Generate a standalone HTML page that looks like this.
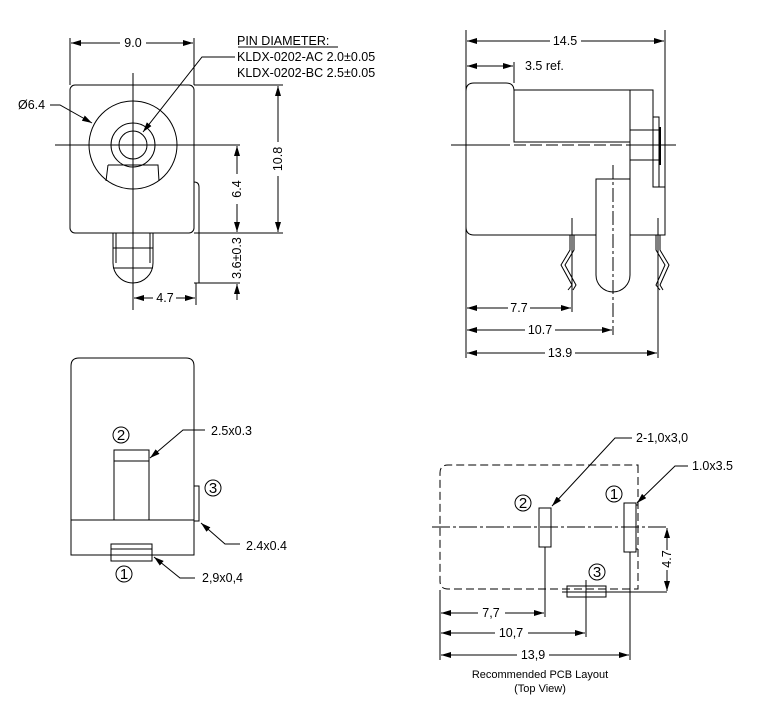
<!DOCTYPE html>
<html><head><style>
html,body{margin:0;padding:0;background:#fff;}
svg{display:block;}
text{font-family:"Liberation Sans",Arial,sans-serif;font-size:12.5px;fill:#000;}
.n{font-size:15px;}
</style></head><body>
<svg width="757" height="702" viewBox="0 0 757 702" xmlns="http://www.w3.org/2000/svg">
<defs>
<marker id="a" viewBox="0 0 10 6" refX="10" refY="3" markerWidth="10" markerHeight="6" orient="auto-start-reverse" markerUnits="userSpaceOnUse"><path d="M0,0 L10,3 L0,6 z" fill="#000"/></marker>
</defs>
<g stroke="#000" stroke-width="1" fill="none">
<rect x="70" y="85" width="124" height="148" rx="5"/>
<circle cx="133" cy="145" r="44"/>
<circle cx="133" cy="145" r="22"/>
<circle cx="133" cy="145" r="14"/>
<path d="M108,165 H158 L159,181 M108,165 L106,181"/>
<line x1="55" y1="145" x2="240" y2="145"/>
<line x1="133" y1="73" x2="133" y2="310"/>
<path d="M113,233 V263 A20,20 0 0 0 153,263 V233"/>
<path d="M116,233 V263 M150,233 V263"/>
<line x1="113" y1="248" x2="153" y2="248"/>
<line x1="113" y1="268" x2="153" y2="268"/>
<path d="M194,182 Q199,182 199,187 V283 H194"/>
<line x1="199" y1="283" x2="240" y2="283"/>
<line x1="70" y1="38" x2="70" y2="85"/>
<line x1="194" y1="38" x2="194" y2="85"/>
<line x1="71" y1="43" x2="120" y2="43" marker-start="url(#a)"/>
<line x1="146" y1="43" x2="193" y2="43" marker-end="url(#a)"/>
<line x1="194" y1="85" x2="283" y2="85"/>
<line x1="194" y1="233" x2="283" y2="233"/>
<line x1="278" y1="86" x2="278" y2="142" marker-start="url(#a)"/>
<line x1="278" y1="176" x2="278" y2="232" marker-end="url(#a)"/>
<line x1="237" y1="146" x2="237" y2="174" marker-start="url(#a)"/>
<line x1="237" y1="204" x2="237" y2="232" marker-end="url(#a)"/>
<line x1="237" y1="300" x2="237" y2="284" marker-end="url(#a)"/>
<line x1="196" y1="283" x2="196" y2="305"/>
<line x1="134" y1="298" x2="153" y2="298" marker-start="url(#a)"/>
<line x1="176" y1="298" x2="195" y2="298" marker-end="url(#a)"/>
<path d="M50,105 H60 L92,123" marker-end="url(#a)"/>
<path d="M235,57 H202 L143,132" marker-end="url(#a)"/>
<line x1="238" y1="47" x2="338" y2="47"/>

<path d="M474,83 H506 Q514,83 514,91 V90 H653 V187 H665 V235 H630 M596,235 H474 Q466,235 466,227 V91 Q466,83 474,83"/>
<path d="M514,90 V142 H630"/>
<line x1="630" y1="90" x2="630" y2="235"/>
<rect x="653" y="117" width="6" height="70"/>
<rect x="630" y="130" width="29" height="30"/>
<line x1="660" y1="127" x2="660" y2="165" stroke-width="2"/>
<line x1="451" y1="145" x2="510" y2="145"/>
<line x1="514" y1="145" x2="630" y2="145" stroke-dasharray="12,4"/>
<line x1="630" y1="145" x2="676" y2="145"/>
<path d="M596,235 V179 H630 V275 A17,17 0 0 1 596,275 V235"/>
<line x1="613" y1="165" x2="613" y2="335" stroke-dasharray="14,3,3,3"/>
<path d="M570,235 V250 L561,265 L572,285 L568,290 M574,235 V250 L565,265 L576,285 L573,290"/>
<path d="M656,235 V250 L665,265 L656,285 L660,290 M660,235 V250 L669,265 L660,285 L663,290"/>
<line x1="572" y1="218" x2="572" y2="312"/>
<line x1="658" y1="218" x2="658" y2="358"/>
<line x1="466" y1="30" x2="466" y2="358"/>
<line x1="665" y1="30" x2="665" y2="187"/>
<line x1="514" y1="62" x2="514" y2="83"/>
<line x1="467" y1="41" x2="550" y2="41" marker-start="url(#a)"/>
<line x1="581" y1="41" x2="664" y2="41" marker-end="url(#a)"/>
<line x1="467" y1="66" x2="513" y2="66" marker-start="url(#a)" marker-end="url(#a)"/>
<line x1="467" y1="308" x2="508" y2="308" marker-start="url(#a)"/>
<line x1="530" y1="308" x2="571" y2="308" marker-end="url(#a)"/>
<line x1="467" y1="330" x2="525" y2="330" marker-start="url(#a)"/>
<line x1="555" y1="330" x2="612" y2="330" marker-end="url(#a)"/>
<line x1="467" y1="353" x2="545" y2="353" marker-start="url(#a)"/>
<line x1="575" y1="353" x2="657" y2="353" marker-end="url(#a)"/>

<path d="M71,555 V366 Q71,358 79,358 H186 Q194,358 194,366 V555 Z"/>
<path d="M71,520 H114 V450 H149 V520 H194"/>
<line x1="114" y1="520" x2="149" y2="520"/>
<line x1="114" y1="461" x2="149" y2="461"/>
<rect x="111" y="544" width="41" height="17"/>
<line x1="111" y1="549" x2="152" y2="549"/>
<rect x="194" y="486" width="5" height="35"/>
<path d="M205,430 H183 L150,458" marker-end="url(#a)"/>
<path d="M240,544 H225 L201,523" marker-end="url(#a)"/>
<path d="M195,578 H180 L154,557" marker-end="url(#a)"/>
<circle cx="121" cy="435" r="8"/>
<circle cx="213" cy="488" r="8"/>
<circle cx="124" cy="574" r="8"/>

<path d="M638,465 V589 H448 Q440,589 440,581 V473 Q440,465 448,465 Z" stroke-dasharray="8,4"/>
<line x1="432" y1="527" x2="667" y2="527" stroke-dasharray="18,3,3,3"/>
<rect x="539" y="508" width="12" height="39"/>
<rect x="624" y="503" width="12" height="49"/>
<path d="M636,505 H638 M636,549 H638"/>
<rect x="567" y="586" width="39" height="11"/>
<line x1="562" y1="592" x2="667" y2="592"/>
<line x1="586" y1="580" x2="586" y2="637"/>
<line x1="545" y1="547" x2="545" y2="617"/>
<line x1="630" y1="552" x2="630" y2="660"/>
<line x1="440" y1="590" x2="440" y2="660"/>
<path d="M632,438 H615 L552,506" marker-end="url(#a)"/>
<path d="M688,466 H675 L637,503" marker-end="url(#a)"/>
<line x1="667" y1="528" x2="667" y2="550" marker-start="url(#a)"/>
<line x1="667" y1="570" x2="667" y2="591" marker-end="url(#a)"/>
<line x1="441" y1="613" x2="478" y2="613" marker-start="url(#a)"/>
<line x1="505" y1="613" x2="544" y2="613" marker-end="url(#a)"/>
<line x1="441" y1="633" x2="495" y2="633" marker-start="url(#a)"/>
<line x1="528" y1="633" x2="585" y2="633" marker-end="url(#a)"/>
<line x1="441" y1="655" x2="517" y2="655" marker-start="url(#a)"/>
<line x1="549" y1="655" x2="629" y2="655" marker-end="url(#a)"/>
<circle cx="523" cy="503" r="8"/>
<circle cx="614" cy="494" r="8"/>
<circle cx="597" cy="572" r="8"/>
</g>

<text x="133" y="47" text-anchor="middle">9.0</text>
<text x="237" y="45">PIN DIAMETER:</text>
<text x="237" y="61">KLDX-0202-AC 2.0±0.05</text>
<text x="237" y="77">KLDX-0202-BC 2.5±0.05</text>
<text x="18" y="109">Ø6.4</text>
<text transform="translate(282,159) rotate(-90)" text-anchor="middle">10.8</text>
<text transform="translate(241,189) rotate(-90)" text-anchor="middle">6.4</text>
<text transform="translate(241,258) rotate(-90)" text-anchor="middle">3.6±0.3</text>
<text x="165" y="302" text-anchor="middle">4.7</text>

<text x="565" y="45" text-anchor="middle">14.5</text>
<text x="525" y="70">3.5 ref.</text>
<text x="519" y="312" text-anchor="middle">7.7</text>
<text x="540" y="334" text-anchor="middle">10.7</text>
<text x="560" y="357" text-anchor="middle">13.9</text>

<text class="n" x="121" y="440" text-anchor="middle">2</text>
<text class="n" x="213" y="493" text-anchor="middle">3</text>
<text class="n" x="124" y="579" text-anchor="middle">1</text>
<text x="211" y="435">2.5x0.3</text>
<text x="246" y="550">2.4x0.4</text>
<text x="202" y="582">2,9x0,4</text>

<text class="n" x="523" y="508" text-anchor="middle">2</text>
<text class="n" x="614" y="499" text-anchor="middle">1</text>
<text class="n" x="597" y="577" text-anchor="middle">3</text>
<text x="636" y="442">2-1,0x3,0</text>
<text x="692" y="470">1.0x3.5</text>
<text transform="translate(671,559) rotate(-90)" text-anchor="middle">4.7</text>
<text x="491" y="617" text-anchor="middle">7,7</text>
<text x="511" y="637" text-anchor="middle">10,7</text>
<text x="533" y="659" text-anchor="middle">13,9</text>
<text x="540" y="678" text-anchor="middle" style="font-size:11px">Recommended PCB Layout</text>
<text x="540" y="692" text-anchor="middle" style="font-size:11px">(Top View)</text>
</svg>
</body></html>
